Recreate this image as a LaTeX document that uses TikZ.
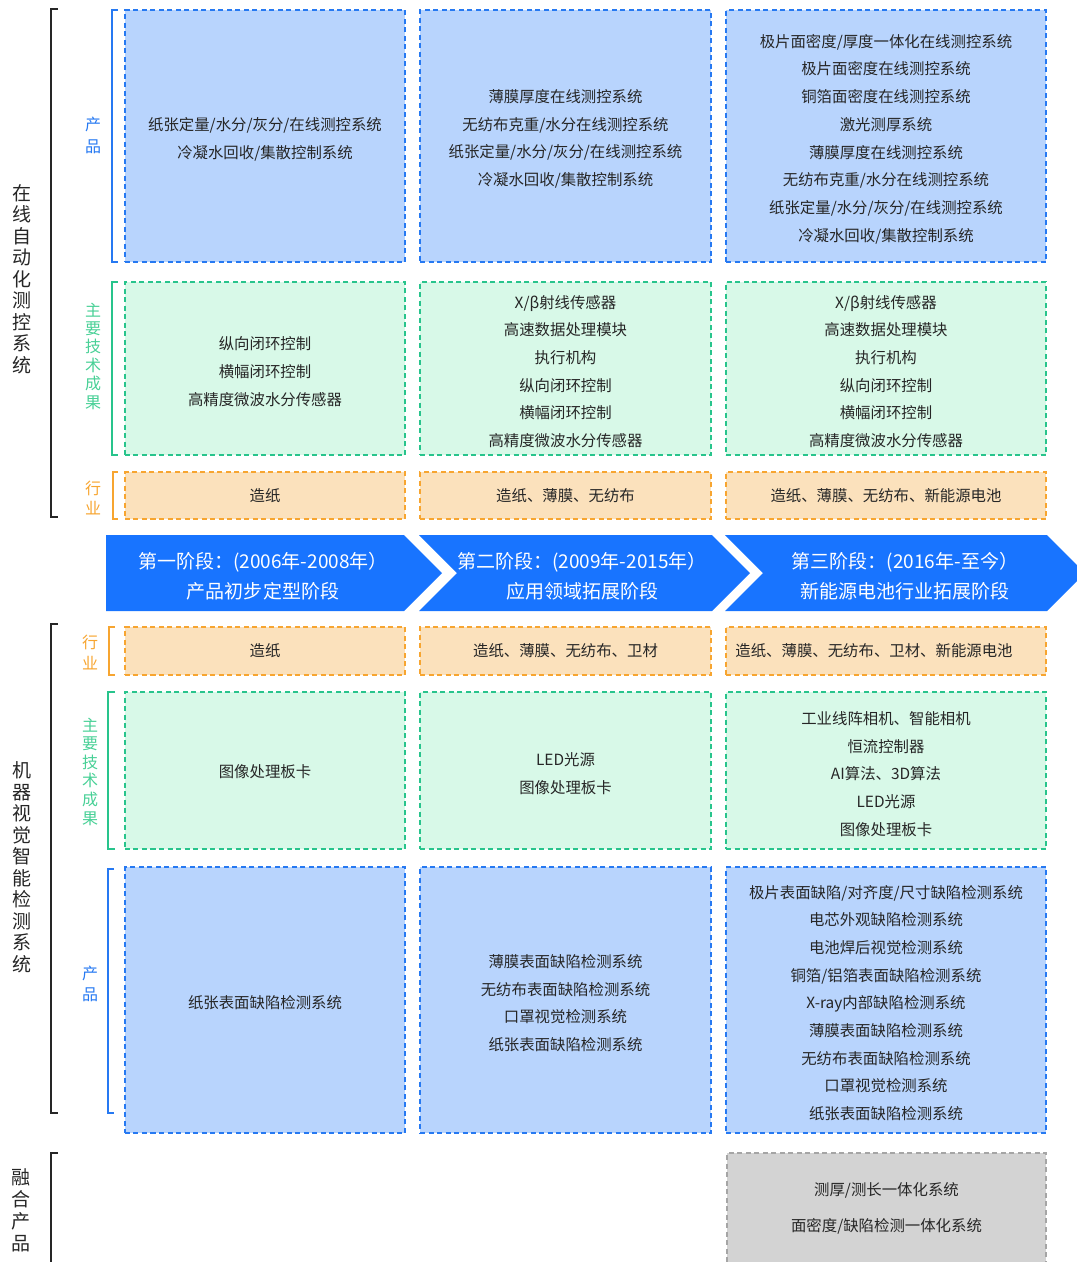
\documentclass[tikz,border=0pt]{standalone}
\usepackage{fontspec}
\setmainfont{Noto Sans CJK SC}
\definecolor{pfill}{RGB}{184,212,253}
\definecolor{pline}{RGB}{38,121,242}
\definecolor{tfill}{RGB}{216,249,232}
\definecolor{tline}{RGB}{40,196,140}
\definecolor{tlabel}{RGB}{72,208,150}
\definecolor{ifill}{RGB}{251,225,188}
\definecolor{iline}{RGB}{247,165,48}
\definecolor{gfill}{RGB}{211,211,211}
\definecolor{gline}{RGB}{165,165,165}
\definecolor{bannerc}{RGB}{24,116,255}
\definecolor{txt}{RGB}{38,38,38}
\tikzset{
  cellbox/.style={draw, line width=1.4bp, dash pattern=on 5bp off 3.5bp, inner sep=0pt, align=center, text=txt, font=\fontsize{15.4bp}{27.7bp}\selectfont},
  celltext/.style={inner sep=0pt, align=center, text=txt, font=\fontsize{15.4bp}{27.7bp}\selectfont},
  prodbox/.style={cellbox, fill=pfill, draw=pline},
  techbox/.style={cellbox, fill=tfill, draw=tline},
  indbox/.style={cellbox, fill=ifill, draw=iline},
  fusebox/.style={cellbox, fill=gfill, draw=gline, font=\fontsize{15.4bp}{36bp}\selectfont},
  bigbrack/.style={line width=1.5bp, draw=black!85},
  subbrack/.style={line width=1.5bp},
  biglabel/.style={align=center, inner sep=0pt, text=black!85, font=\fontsize{19bp}{21.5bp}\selectfont},
  sublabel/.style={align=center, inner sep=0pt, font=\fontsize{16bp}{#1}\selectfont},
  sublabel/.default={21bp},
  chevron/.style={fill=bannerc, draw=none},
  bannertext/.style={align=center, inner sep=0pt, text=white, font=\fontsize{19bp}{30bp}\selectfont}
}
\begin{document}
\begin{tikzpicture}[x=1bp, y=-1bp]
\useasboundingbox (0,0) rectangle (1077,1262);

% ---------- left black brackets and labels ----------
\draw[bigbrack] (58,9) -- (51,9) -- (51,517) -- (58,517);
\node[biglabel] (lab1) at (22,279) {在\\线\\自\\动\\化\\测\\控\\系\\统};
\draw[bigbrack] (58,624) -- (51,624) -- (51,1113) -- (58,1113);
\node[biglabel] (lab2) at (22,867) {机\\器\\视\\觉\\智\\能\\检\\测\\系\\统};
\draw[bigbrack] (58,1153) -- (51,1153) -- (51,1275);
\node[biglabel, font=\fontsize{19bp}{22bp}\selectfont] (lab3) at (21,1210) {融\\合\\产\\品};

% ---------- coloured sub brackets and labels ----------
\draw[subbrack, pline] (118,10) -- (112,10) -- (112,262) -- (118,262);
\node[sublabel=22bp, text=pline] (sl1) at (93,135) {产\\品};
\draw[subbrack, tline] (118,282) -- (112,282) -- (112,455) -- (118,455);
\node[sublabel=18.4bp, text=tlabel] (sl2) at (93,356) {主\\要\\技\\术\\成\\果};
\draw[subbrack, iline] (118,472) -- (113,472) -- (113,519) -- (118,519);
\node[sublabel=20bp, text=iline] (sl3) at (93,498) {行\\业};

\draw[subbrack, iline] (115,627) -- (109,627) -- (109,675) -- (115,675);
\node[sublabel=21bp, text=iline] (sl4) at (90,652.5) {行\\业};
\draw[subbrack, tline] (115,692) -- (108,692) -- (108,849) -- (115,849);
\node[sublabel=18.6bp, text=tlabel] (sl5) at (90,771.5) {主\\要\\技\\术\\成\\果};
\draw[subbrack, pline] (114,869) -- (108,869) -- (108,1113) -- (114,1113);
\node[sublabel=21bp, text=pline] (sl6) at (90,983.5) {产\\品};

% ---------- top section: products ----------
\node[prodbox, minimum width=280bp, minimum height=252bp] (tp1) at (265,136) {};
\node[prodbox, minimum width=291bp, minimum height=252bp] (tp2) at (565.5,136) {};
\node[prodbox, minimum width=320bp, minimum height=252bp] (tp3) at (886,136) {};
\node[celltext] (tp1t) at ([yshift=-3bp]tp1.center)
  {纸张定量/水分/灰分/在线测控系统\\冷凝水回收/集散控制系统};
\node[celltext] (tp2t) at ([yshift=-3bp]tp2.center)
  {薄膜厚度在线测控系统\\无纺布克重/水分在线测控系统\\纸张定量/水分/灰分/在线测控系统\\冷凝水回收/集散控制系统};
\node[celltext] (tp3t) at ([yshift=-3bp]tp3.center)
  {极片面密度/厚度一体化在线测控系统\\极片面密度在线测控系统\\铜箔面密度在线测控系统\\激光测厚系统\\薄膜厚度在线测控系统\\无纺布克重/水分在线测控系统\\纸张定量/水分/灰分/在线测控系统\\冷凝水回收/集散控制系统};

% ---------- top section: technology ----------
\node[techbox, minimum width=280bp, minimum height=173bp] (tt1) at (265,368.5) {};
\node[techbox, minimum width=291bp, minimum height=173bp] (tt2) at (565.5,368.5) {};
\node[techbox, minimum width=320bp, minimum height=173bp] (tt3) at (886,368.5) {};
\node[celltext] (tt1t) at ([yshift=-3bp]tt1.center)
  {纵向闭环控制\\横幅闭环控制\\高精度微波水分传感器};
\node[celltext] (tt2t) at ([yshift=-3bp]tt2.center)
  {X/β射线传感器\\高速数据处理模块\\执行机构\\纵向闭环控制\\横幅闭环控制\\高精度微波水分传感器};
\node[celltext] (tt3t) at ([yshift=-3bp]tt3.center)
  {X/β射线传感器\\高速数据处理模块\\执行机构\\纵向闭环控制\\横幅闭环控制\\高精度微波水分传感器};

% ---------- top section: industry ----------
\node[indbox, minimum width=280bp, minimum height=47bp] (ti1) at (265,495.5) {造纸};
\node[indbox, minimum width=291bp, minimum height=47bp] (ti2) at (565.5,495.5) {造纸、薄膜、无纺布};
\node[indbox, minimum width=320bp, minimum height=47bp] (ti3) at (886,495.5) {造纸、薄膜、无纺布、新能源电池};

% ---------- stage banner ----------
\fill[chevron] (106,535) -- (404,535) -- (442,573) -- (404,611) -- (106,611) -- cycle;
\fill[chevron] (419,535) -- (712,535) -- (750,573) -- (712,611) -- (419,611) -- (457,573) -- cycle;
\fill[chevron] (725,535) -- (1047,535) -- (1085,573) -- (1047,611) -- (725,611) -- (763,573) -- cycle;
\node[bannertext] (st1) at (263,576) {第一阶段：(2006年-2008年）\\产品初步定型阶段};
\node[bannertext] (st2) at (582,576) {第二阶段：(2009年-2015年）\\应用领域拓展阶段};
\node[bannertext] (st3) at (905,576) {第三阶段：(2016年-至今）\\新能源电池行业拓展阶段};

% ---------- bottom section: industry ----------
\node[indbox, minimum width=280bp, minimum height=48bp] (bi1) at (265,651) {造纸};
\node[indbox, minimum width=291bp, minimum height=48bp] (bi2) at (565.5,651) {造纸、薄膜、无纺布、卫材};
\node[indbox, minimum width=320bp, minimum height=48bp] (bi3) at (886,651) {造纸、薄膜、无纺布、卫材、新能源电池\hspace*{24bp}};

% ---------- bottom section: technology ----------
\node[techbox, minimum width=280bp, minimum height=157bp] (bt1) at (265,770.5) {};
\node[techbox, minimum width=291bp, minimum height=157bp] (bt2) at (565.5,770.5) {};
\node[techbox, minimum width=320bp, minimum height=157bp] (bt3) at (886,770.5) {};
\node[celltext] (bt1t) at ([yshift=-1bp]bt1.center) {图像处理板卡};
\node[celltext] (bt2t) at ([yshift=-3bp]bt2.center) {LED光源\\图像处理板卡};
\node[celltext] (bt3t) at ([yshift=-3.5bp]bt3.center)
  {工业线阵相机、智能相机\\恒流控制器\\AI算法、3D算法\\LED光源\\图像处理板卡};

% ---------- bottom section: products ----------
\node[prodbox, minimum width=280bp, minimum height=266bp] (bp1) at (265,1000) {};
\node[prodbox, minimum width=291bp, minimum height=266bp] (bp2) at (565.5,1000) {};
\node[prodbox, minimum width=320bp, minimum height=266bp] (bp3) at (886,1000) {};
\node[celltext] (bp1t) at ([yshift=-3bp]bp1.center) {纸张表面缺陷检测系统};
\node[celltext] (bp2t) at ([yshift=-3bp]bp2.center)
  {薄膜表面缺陷检测系统\\无纺布表面缺陷检测系统\\口罩视觉检测系统\\纸张表面缺陷检测系统};
\node[celltext] (bp3t) at ([yshift=-3bp]bp3.center)
  {极片表面缺陷/对齐度/尺寸缺陷检测系统\\电芯外观缺陷检测系统\\电池焊后视觉检测系统\\铜箔/铝箔表面缺陷检测系统\\X-ray内部缺陷检测系统\\薄膜表面缺陷检测系统\\无纺布表面缺陷检测系统\\口罩视觉检测系统\\纸张表面缺陷检测系统};

% ---------- fusion products ----------
\node[fusebox, minimum width=319bp, minimum height=125bp] (fp) at (886.5,1215.5)
  {测厚/测长一体化系统\\面密度/缺陷检测一体化系统\\[-19bp]\mbox{}};
\end{tikzpicture}
\end{document}
